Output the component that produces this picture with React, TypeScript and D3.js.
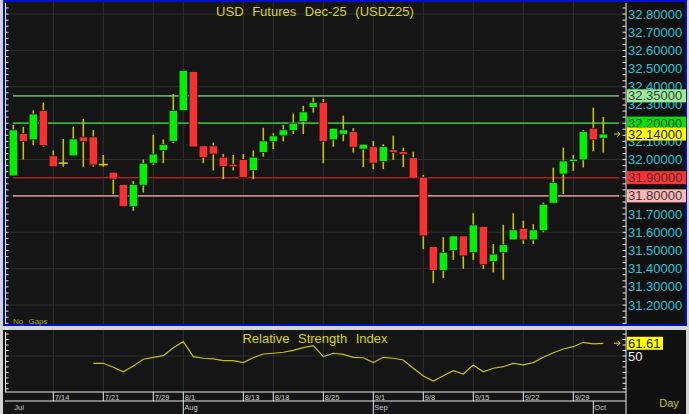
import * as d3 from 'd3'
import { FC } from 'react'

const WIDTH = 689
const HEIGHT = 414
const PLOT = { left: 5, right: 626, top: 2, bottom: 325 }
const RSI_BOX = { top: 330, bottom: 392 }
const FONT = 'Liberation Sans, Arial, sans-serif'

// trading days shown (no gaps)
const DATES = [
  '7/8', '7/9', '7/10', '7/11', '7/14', '7/15', '7/16', '7/17', '7/18', '7/21',
  '7/22', '7/23', '7/24', '7/25', '7/29', '7/30', '7/31', '8/1', '8/4', '8/5',
  '8/6', '8/7', '8/8', '8/13', '8/14', '8/15', '8/18', '8/19', '8/20', '8/21',
  '8/22', '8/25', '8/26', '8/27', '8/28', '8/29', '9/1', '9/2', '9/3', '9/4',
  '9/5', '9/8', '9/9', '9/10', '9/11', '9/12', '9/15', '9/16', '9/17', '9/18',
  '9/19', '9/22', '9/23', '9/24', '9/25', '9/26', '9/29', '9/30', '10/1', '10/2',
]
const OPEN = [
  31.91, 32.143, 32.108, 32.27, 32.02, 31.98, 32.02, 32.124, 32.124, 31.972,
  31.93, 31.862, 31.741, 31.859, 31.98, 32.049, 32.1, 32.269, 32.483, 32.075,
  32.075, 32.013, 31.974, 32.0, 31.94, 32.038, 32.1, 32.13, 32.159, 32.208,
  32.287, 32.313, 32.108, 32.139, 32.153, 32.057, 32.07, 31.989, 32.053, 32.043,
  32.01, 31.903, 31.521, 31.39, 31.499, 31.58, 31.488, 31.631, 31.439, 31.488,
  31.558, 31.622, 31.558, 31.608, 31.76, 31.92, 31.989, 31.998, 32.172, 32.117,
]
const HIGH = [
  32.19, 32.18, 32.27, 32.313, 32.05, 32.113, 32.18, 32.223, 32.163, 32.025,
  31.93, 31.862, 31.882, 32.0, 32.135, 32.11, 32.36, 32.49, 32.483, 32.075,
  32.093, 32.03, 32.025, 32.03, 32.05, 32.174, 32.145, 32.19, 32.252, 32.295,
  32.34, 32.333, 32.172, 32.241, 32.172, 32.084, 32.102, 32.084, 32.131, 32.065,
  32.043, 31.915, 31.521, 31.573, 31.58, 31.58, 31.705, 31.631, 31.535, 31.641,
  31.705, 31.663, 31.644, 31.763, 31.955, 32.065, 32.025, 32.163, 32.285, 32.234,
]
const LOW = [
  31.91, 32.0, 32.08, 32.07, 31.96, 31.96, 32.02, 31.96, 31.96, 31.96,
  31.81, 31.741, 31.718, 31.818, 31.97, 31.98, 32.09, 32.269, 32.069, 31.98,
  31.94, 31.892, 31.94, 31.9, 31.892, 32.016, 32.058, 32.1, 32.14, 32.14,
  32.258, 31.98, 32.07, 32.1, 32.038, 31.958, 31.947, 31.947, 31.998, 31.958,
  31.894, 31.507, 31.32, 31.348, 31.448, 31.399, 31.448, 31.399, 31.379, 31.338,
  31.558, 31.536, 31.536, 31.6, 31.76, 31.81, 31.937, 31.956, 32.047, 32.038,
]
const CLOSE = [
  32.163, 32.1, 32.25, 32.076, 31.96, 31.98, 32.113, 32.1, 31.97, 31.972,
  31.892, 31.741, 31.862, 31.98, 32.03, 32.082, 32.27, 32.49, 32.069, 32.01,
  32.03, 31.961, 31.96, 31.9, 32.013, 32.102, 32.13, 32.163, 32.2, 32.262,
  32.313, 32.1, 32.172, 32.163, 32.068, 32.084, 31.98, 32.07, 32.038, 32.029,
  31.897, 31.58, 31.39, 31.49, 31.58, 31.47, 31.64, 31.421, 31.48, 31.531,
  31.613, 31.558, 31.613, 31.754, 31.873, 31.992, 32.002, 32.153, 32.108, 32.14,
]
const RSI: (number | null)[] = [
  null, null, null, null, null, null, null, null, 43.3, 43.3,
  39.7, 35.6, 40.9, 47.0, 48.8, 50.3, 57.6, 63.1, 49.4, 47.9,
  47.3, 45.7, 45.7, 43.9, 48.4, 51.8, 52.5, 53.4, 55.2, 57.6,
  59.4, 49.4, 52.5, 51.4, 48.8, 48.4, 43.9, 48.8, 47.9, 46.3,
  38.8, 31.7, 27.1, 32.0, 36.6, 33.5, 41.8, 35.6, 38.8, 40.2,
  43.3, 41.8, 43.9, 48.8, 53.0, 56.4, 58.5, 62.5, 61.0, 61.61,
]

const DATE_TICKS = ['7/14', '7/21', '7/29', '8/1', '8/13', '8/18', '8/25', '9/1', '9/8', '9/15', '9/22', '9/29']
const MONTHS = ['Jul', 'Aug', 'Sep', 'Oct']
const MONTH_START = ['7/8', '8/1', '9/1', '10/1']

const LEVELS = [32.35, 32.2, 31.9, 31.8]
const LEVEL_LINE = ['#5fa65f', '#2fb52f', '#a82222', '#c48a8a']
const LEVEL_BOX = ['#98ee98', '#00e400', '#ff3131', '#ffb6b6']
const LAST_PRICE = 32.14
const LAST_RSI = 61.61

const App: FC = () => {
  const xScale = d3.scalePoint<string>().domain(DATES).range([13.3, 603.3])
  const yScale = d3.scaleLinear().domain([31.2, 32.8]).range([305, 14])
  const rsiScale = d3.scaleLinear().domain([20, 70]).range([388.8, 334.1])
  const fmt = d3.format('.5f')

  // labels fully hidden behind a level box are not drawn
  const boxed = [...LEVELS, LAST_PRICE]
  const priceTicks = yScale.ticks(16)
  const labelTicks = priceTicks.filter((t) => !boxed.some((v) => Math.abs(yScale(v) - yScale(t)) < 4))
  const gridTicks = priceTicks.filter((_, i) => i % 2 === 0)
  const minorStep = (yScale(31.2) - yScale(31.3)) / 3
  const sideTicks = d3.range(PLOT.top + 6, PLOT.bottom, minorStep)
  const rsiSideTicks = d3.range(rsiScale(75), RSI_BOX.bottom, (rsiScale(20) - rsiScale(25)))

  const rsiLine = d3
    .line<number | null>()
    .defined((d) => d != null)
    .x((_, i) => xScale(DATES[i]) as number)
    .y((d) => rsiScale(d as number))

  const candles = DATES.map((d, i) => {
    const cx = xScale(d) as number
    const o = OPEN[i]
    const c = CLOSE[i]
    const doji = Math.abs(c - o) < 0.0005
    const top = yScale(Math.max(o, c))
    const h = Math.max(1.5, Math.abs(yScale(o) - yScale(c)))
    return (
      <g key={ d }>
        <line x1={ cx } x2={ cx } y1={ yScale(HIGH[i]) } y2={ yScale(LOW[i]) } stroke='#c4c400' strokeWidth={ 1.6 } />
        { doji ? (
          <line x1={ cx - 4.5 } x2={ cx + 4.5 } y1={ yScale(o) } y2={ yScale(o) } stroke='#d0d000' strokeWidth={ 1.6 } />
        ) : (
          <rect
            x={ cx - 4.2 }
            y={ top }
            width={ 8.4 }
            height={ h }
            fill={ c > o ? '#00f000' : '#f73030' }
            stroke='#0a0a0a'
            strokeWidth={ 0.7 }
          />
        ) }
      </g>
    )
  })

  return (
    <svg width={ WIDTH } height={ HEIGHT } style={ { position: 'absolute', left: 0, top: 0 } } fontFamily={ FONT }>
      <rect width={ WIDTH } height={ HEIGHT } fill='#d4d4d4' />

      {/* main panel */}
      <rect x={ 4 } y={ 1 } width={ 682 } height={ 324 } fill='#151515' stroke='#0010c8' strokeWidth={ 2 } />
      <rect x={ 627 } y={ 2 } width={ 58 } height={ 322 } fill='#101010' />
      { gridTicks.map((t) => (
        <line key={ t } x1={ PLOT.left } x2={ PLOT.right } y1={ yScale(t) } y2={ yScale(t) } stroke='#2f2f2f' />
      )) }
      { DATE_TICKS.map((d) => (
        <line key={ d } x1={ xScale(d) } x2={ xScale(d) } y1={ PLOT.top } y2={ PLOT.bottom - 1 } stroke='#2f2f2f' />
      )) }
      <line x1={ 5.5 } x2={ 5.5 } y1={ 3 } y2={ 324 } stroke='#e8e8e8' />
      { sideTicks.map((y) => (
        <line key={ y } x1={ 5.5 } x2={ 8.5 } y1={ y } y2={ y } stroke='#e8e8e8' />
      )) }
      <line x1={ 626 } x2={ 626 } y1={ 3 } y2={ 324 } stroke='#e8e8e8' />
      { sideTicks.map((y) => (
        <line key={ y } x1={ 622.5 } x2={ 626 } y1={ y } y2={ y } stroke='#e8e8e8' />
      )) }

      <text x={ 315 } y={ 16 } textAnchor='middle' fontSize={ 13 } fill='#d6d600' wordSpacing={ 5 }>
        USD Futures Dec-25 (USDZ25)
      </text>

      { LEVELS.map((v, i) => (
        <line key={ v } x1={ 13 } x2={ 619 } y1={ yScale(v) } y2={ yScale(v) } stroke={ LEVEL_LINE[i] } strokeWidth={ 1.6 } />
      )) }

      { candles }

      { labelTicks.map((t) => (
        <text key={ t } x={ 628 } y={ yScale(t) } dominantBaseline='central' fontSize={ 13 } fill='#1ec8dc'>
          { fmt(t) }
        </text>
      )) }
      { LEVELS.map((v, i) => (
        <g key={ v }>
          <rect x={ 627 } y={ yScale(v) - 6.5 } width={ 59 } height={ 13 } fill={ LEVEL_BOX[i] } />
          <text x={ 628 } y={ yScale(v) } dominantBaseline='central' fontSize={ 13 } fill='#3a3a3a'>
            { fmt(v) }
          </text>
        </g>
      )) }
      <rect x={ 627 } y={ yScale(LAST_PRICE) - 6.5 } width={ 59 } height={ 13 } fill='#ffff00' />
      <text x={ 628 } y={ yScale(LAST_PRICE) } dominantBaseline='central' fontSize={ 13 } fill='#222'>
        { fmt(LAST_PRICE) }
      </text>
      <path
        d={ `M614,${yScale(LAST_PRICE)}h6m-2.5,-2.5l2.5,2.5l-2.5,2.5` }
        stroke='#d6d600'
        fill='none'
        strokeWidth={ 1 }
      />

      <text x={ 13 } y={ 321 } dominantBaseline='central' fontSize={ 8 } fill='#a8a800' wordSpacing={ 3 }>
        No Gaps
      </text>

      {/* RSI panel */}
      <rect x={ 3 } y={ RSI_BOX.top } width={ 683 } height={ HEIGHT - RSI_BOX.top } fill='#151515' />
      <rect x={ 627 } y={ RSI_BOX.top } width={ 59 } height={ HEIGHT - RSI_BOX.top } fill='#101010' />
      <line x1={ PLOT.left } x2={ PLOT.right } y1={ rsiScale(50) } y2={ rsiScale(50) } stroke='#2f2f2f' />
      { DATE_TICKS.map((d) => (
        <line key={ d } x1={ xScale(d) } x2={ xScale(d) } y1={ RSI_BOX.top } y2={ RSI_BOX.bottom } stroke='#2f2f2f' />
      )) }
      <line x1={ 5.5 } x2={ 5.5 } y1={ 332 } y2={ RSI_BOX.bottom } stroke='#e8e8e8' />
      <line x1={ 626 } x2={ 626 } y1={ RSI_BOX.top } y2={ HEIGHT } stroke='#e8e8e8' />
      { rsiSideTicks.map((y) => (
        <g key={ y }>
          <line x1={ 5.5 } x2={ 8.5 } y1={ y } y2={ y } stroke='#e8e8e8' />
          <line x1={ 622.5 } x2={ 626 } y1={ y } y2={ y } stroke='#e8e8e8' />
        </g>
      )) }

      <text x={ 315 } y={ 343 } textAnchor='middle' fontSize={ 13 } fill='#d6d600' wordSpacing={ 5 }>
        Relative Strength Index
      </text>
      <path d={ rsiLine(RSI) as string } fill='none' stroke='#c4c400' strokeWidth={ 1.2 } />

      <rect x={ 627 } y={ rsiScale(LAST_RSI) - 6.5 } width={ 36 } height={ 13 } fill='#ffff00' />
      <text x={ 628 } y={ rsiScale(LAST_RSI) } dominantBaseline='central' fontSize={ 13 } fill='#222'>
        { LAST_RSI.toFixed(2) }
      </text>
      <text x={ 628 } y={ rsiScale(50) + 1 } dominantBaseline='central' fontSize={ 13 } fill='#f0f0f0'>
        50
      </text>
      <path
        d={ `M614,${rsiScale(LAST_RSI)}h6m-2.5,-2.5l2.5,2.5l-2.5,2.5` }
        stroke='#d6d600'
        fill='none'
        strokeWidth={ 1 }
      />

      {/* date axis */}
      <line x1={ PLOT.left } x2={ PLOT.right } y1={ RSI_BOX.bottom } y2={ RSI_BOX.bottom } stroke='#e8e8e8' />
      <line x1={ PLOT.left } x2={ PLOT.right } y1={ 401 } y2={ 401 } stroke='#e8e8e8' />
      { DATE_TICKS.map((d) => (
        <g key={ d }>
          <line x1={ xScale(d) } x2={ xScale(d) } y1={ RSI_BOX.bottom } y2={ 401 } stroke='#e8e8e8' />
          <text x={ (xScale(d) as number) + 1.5 } y={ 400 } fontSize={ 7.5 } fill='#c8c8c8'>
            { d }
          </text>
        </g>
      )) }
      { MONTHS.map((m, i) => {
        const mx = xScale(MONTH_START[i]) as number
        return (
          <g key={ m }>
            { i > 0 && <line x1={ mx } x2={ mx } y1={ 401 } y2={ HEIGHT } stroke='#e8e8e8' /> }
            <text x={ mx + 1 } y={ 410 } fontSize={ 7.5 } fill='#c8c8c8'>
              { m }
            </text>
          </g>
        )
      }) }
      <text x={ 669 } y={ 403 } textAnchor='middle' dominantBaseline='central' fontSize={ 11 } fill='#c8c800'>
        Day
      </text>
    </svg>
  )
}

export default App
